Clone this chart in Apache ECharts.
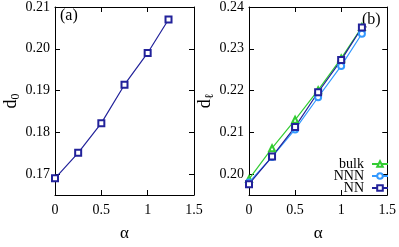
<!DOCTYPE html>
<html><head><meta charset="utf-8">
<script src="https://cdn.jsdelivr.net/npm/echarts@6/dist/echarts.min.js"></script>
<style>html,body{margin:0;padding:0;background:#fff}#c{width:399px;height:247px}</style>
</head><body><div id="c"></div>
<script>
var alpha = [0, 0.25, 0.5, 0.75, 1.0, 1.225];
var d0 = [0.1690, 0.1751, 0.1822, 0.1914, 0.1990, 0.2070];
var dlBulk = [0.1988, 0.2062, 0.2130, 0.2201, 0.2277, 0.2352];
var dlNNN = [0.1980, 0.2041, 0.2107, 0.2184, 0.2259, 0.2336];
var dlNN = [0.1976, 0.2042, 0.2113, 0.2196, 0.2273, 0.2351];
var xTicks = [0, 0.5, 1, 1.5];
var yTicksA = [0.17, 0.18, 0.19, 0.20, 0.21];
var yTicksB = [0.20, 0.21, 0.22, 0.23, 0.24];

var F = 'Liberation Serif';
var C_NN = '#22229a', C_NNN = '#3399ff', C_BULK = '#33cc33';
function pairs(ys){ return alpha.map(function(a,i){return [a, ys[i]];}); }
function xAx(g, main){
  return {type:'value', gridIndex:g, min:0, max:1.5, position: main?'bottom':'top',
    axisLine:{show:true, onZero:false, lineStyle:{color:'#000', width:1}},
    axisTick:{show:true, inside:true, length:5, customValues:xTicks, lineStyle:{color:'#000'}},
    axisLabel:{show:main, customValues:xTicks, color:'#000', fontFamily:F, fontSize:14, margin:8,
      formatter:function(v){return String(v);}},
    splitLine:{show:false},
    name: main?'α':'', nameLocation:'middle', nameGap:30,
    nameTextStyle:{fontFamily:F, fontSize:17, color:'#000'}};
}
function yAx(g, main, min, max, ticks, sub){
  return {type:'value', gridIndex:g, min:min, max:max, position: main?'left':'right',
    axisLine:{show:true, onZero:false, lineStyle:{color:'#000', width:1}},
    axisTick:{show:true, inside:true, length:5, customValues:ticks, lineStyle:{color:'#000'}},
    axisLabel:{show:main, customValues:ticks, color:'#000', fontFamily:F, fontSize:14, margin:5,
      formatter:function(v){return v.toFixed(2);}},
    splitLine:{show:false},
    name: main?('{a|d}{b|'+sub+'}'):'', nameLocation:'middle', nameGap:30, nameRotate:90,
    nameTextStyle:{rich:{a:{fontFamily:F, fontSize:18, color:'#000'}, b:{fontFamily:F, fontSize:12, color:'#000', padding:[8,0,0,0]}}}};
}
function ser(name, ys, xi, yi, color, sym){
  return {name:name, type:'line', xAxisIndex:xi, yAxisIndex:yi, data:pairs(ys),
    symbol:sym, symbolSize:6, showSymbol:true,
    lineStyle:{color:color, width:1.2}, itemStyle:{color:color, borderColor:color, borderWidth:1.2},
    emphasis:{disabled:true}, z: 3};
}
var chart = echarts.init(document.getElementById('c'));
chart.setOption({
  animation:false,
  grid:[{left:55, top:5, width:139, height:207},{left:249, top:5, width:139, height:207}],
  xAxis:[xAx(0,true), xAx(0,false), xAx(1,true), xAx(1,false)],
  yAxis:[yAx(0,true,0.165,0.21,yTicksA,'0'), yAx(0,false,0.165,0.21,yTicksA,''),
         yAx(1,true,0.195,0.24,yTicksB,'ℓ'), yAx(1,false,0.195,0.24,yTicksB,'')],
  legend:{orient:'vertical', right:10, top:157, align:'right', itemWidth:16, itemHeight:7, itemGap:-2, padding:0,
    textStyle:{fontFamily:F, fontSize:14, color:'#000', padding:[0,3,0,0]},
    data:['bulk','NNN','NN']},
  series:[
    ser('d0', d0, 0, 0, C_NN, 'emptyRect'),
    ser('bulk', dlBulk, 2, 2, C_BULK, 'emptyTriangle'),
    ser('NNN', dlNNN, 2, 2, C_NNN, 'emptyCircle'),
    ser('NN', dlNN, 2, 2, C_NN, 'emptyRect')
  ],
  graphic:[
    {type:'text', left:60, top:8, style:{text:'(a)', font:'16px "Liberation Serif"', fill:'#000'}},
    {type:'text', left:362, top:12, style:{text:'(b)', font:'16px "Liberation Serif"', fill:'#000'}}
  ]
});
</script></body></html>
